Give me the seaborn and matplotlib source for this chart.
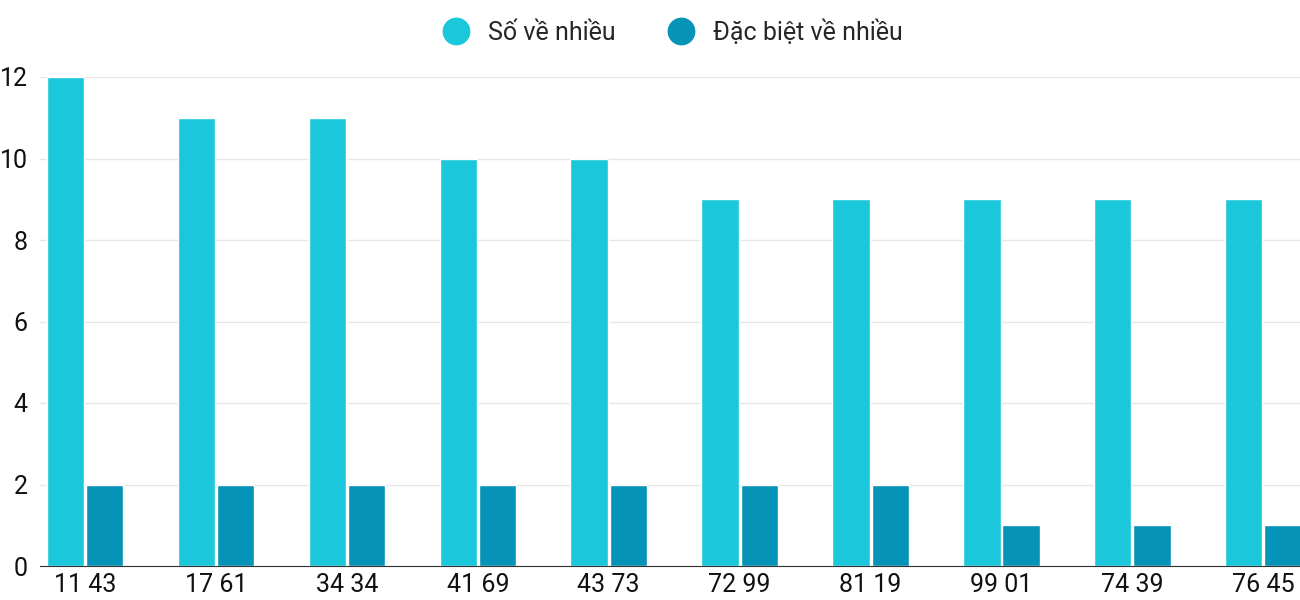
import matplotlib
matplotlib.use("Agg")
import matplotlib.pyplot as plt
import seaborn as sns
import pandas as pd
from matplotlib.lines import Line2D

categories = ["11 43", "17 61", "34 34", "41 69", "43 73", "72 99", "81 19", "99 01", "74 39", "76 45"]
so_ve_nhieu = [12, 11, 11, 10, 10, 9, 9, 9, 9, 9]
dac_biet = [2, 2, 2, 2, 2, 2, 2, 1, 1, 1]
series_names = ["Số về nhiều", "Đặc biệt về nhiều"]
colors = ["#1BC8DB", "#0693B8"]

df = pd.DataFrame({
    "cat": categories * 2,
    "val": so_ve_nhieu + dac_biet,
    "series": [series_names[0]] * 10 + [series_names[1]] * 10,
})

sns.set_style("white")
plt.rcParams["font.family"] = ["Roboto", "DejaVu Sans"]

fig = plt.figure(figsize=(13, 6), dpi=100)
ax = fig.add_axes([40 / 1300, 34 / 600, 1260 / 1300, 489 / 600])
sns.barplot(data=df, x="cat", y="val", hue="series", palette=colors,
            width=0.6, gap=0.05, ax=ax, legend=False, saturation=1)

ax.set_xlim(-0.344, 9.28)
ax.set_ylim(0, 12)
ax.set_yticks([0, 2, 4, 6, 8, 10, 12])
ax.yaxis.grid(True, color="#e6e6e6", linewidth=1)
ax.set_axisbelow(True)
ax.set_xlabel("")
ax.set_ylabel("")
for s in ["top", "right", "left"]:
    ax.spines[s].set_visible(False)
ax.spines["bottom"].set_color("#333333")
ax.tick_params(axis="x", labelsize=18, length=0, pad=5, colors="#111111")
ax.tick_params(axis="y", labelsize=18, length=0, pad=9, colors="#111111")

handles = [Line2D([0], [0], marker="o", linestyle="", markersize=19, color=c) for c in colors]
fig.legend(handles, series_names, loc="upper center", bbox_to_anchor=(0.513, 1.005), ncol=2,
           frameon=False, fontsize=18, handletextpad=0.3, columnspacing=1.6)

fig.savefig("out.png", dpi=100)
